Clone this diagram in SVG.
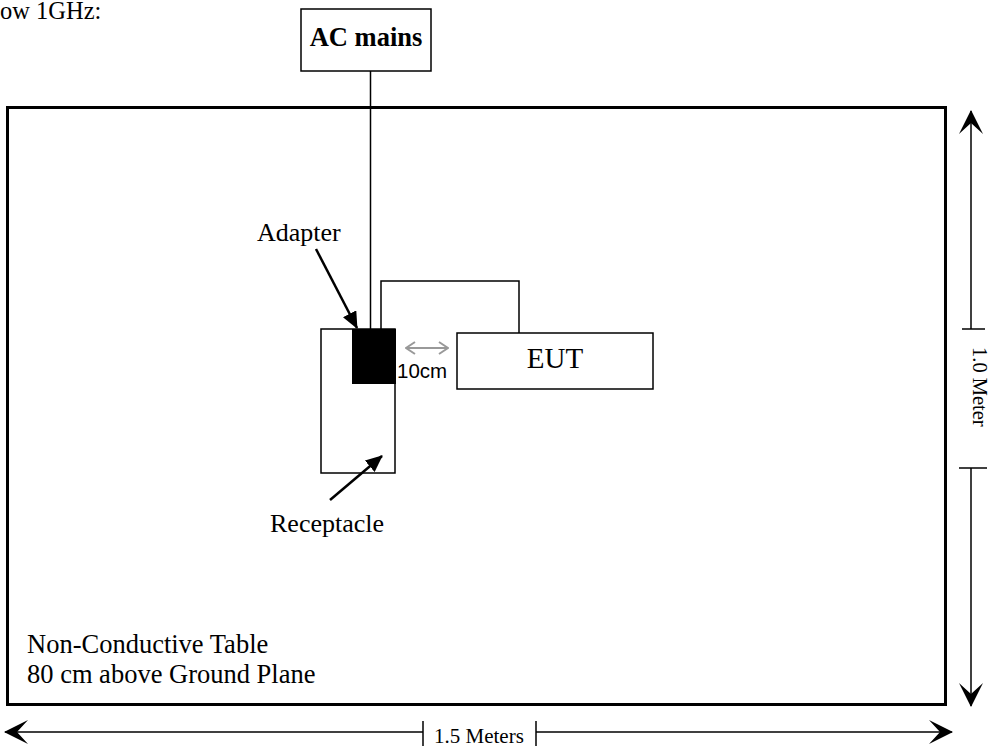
<svg xmlns="http://www.w3.org/2000/svg" width="989" height="748" viewBox="0 0 989 748">
<style>
text{font-family:"Liberation Serif","Times New Roman",serif;fill:#000}
.ln{stroke:#000;stroke-width:1.5;fill:none}
.dim{stroke:#000;stroke-width:1.5;fill:none}
.sans{font-family:"Liberation Sans",Arial,sans-serif}
</style>
<defs>
<marker id="big" viewBox="0 0 24 24" refX="23" refY="12" markerWidth="24" markerHeight="24" markerUnits="userSpaceOnUse" orient="auto">
<path d="M0,0 L24,12 L0,24 L11,12 Z" fill="#000"/>
</marker>
<marker id="ptr" viewBox="0 0 17 15" refX="16" refY="7.5" markerWidth="17" markerHeight="15" markerUnits="userSpaceOnUse" orient="auto">
<path d="M0,0 L17,7.5 L0,15 Z" fill="#000"/>
</marker>
<marker id="gray" viewBox="0 0 11 14" refX="10" refY="7" markerWidth="11" markerHeight="14" markerUnits="userSpaceOnUse" orient="auto-start-reverse">
<path d="M1,1 L10,7 L1,13" fill="none" stroke="#999" stroke-width="2"/>
</marker>
</defs>
<text x="0" y="19" font-size="24.5">ow 1GHz:</text>
<g id="table">
<rect x="7.5" y="107.5" width="938" height="597" fill="none" stroke="#000" stroke-width="3"/>
<text x="27" y="653" font-size="26.5">Non-Conductive Table</text>
<text x="27" y="683" font-size="26.5">80 cm above Ground Plane</text>
</g>
<g id="acmains">
<rect x="301" y="9" width="130" height="62" fill="#fff" stroke="#000" stroke-width="1.5"/>
<text x="366" y="46" font-size="26.5" font-weight="bold" text-anchor="middle">AC mains</text>
</g>
<g id="receptacle">
<rect x="321" y="329" width="74" height="144" fill="#fff" stroke="#000" stroke-width="1.5"/>
<text x="270" y="532" font-size="26">Receptacle</text>
</g>
<g id="adapter">
<rect x="352" y="329" width="44" height="55" fill="#000"/>
<text x="257" y="241" font-size="26">Adapter</text>
</g>
<g id="eut">
<rect x="457" y="333" width="196" height="56" fill="#fff" stroke="#000" stroke-width="1.5"/>
<text x="555" y="368" font-size="29" text-anchor="middle">EUT</text>
</g>
<g id="connectors">
<line class="ln" x1="370.5" y1="71" x2="370.5" y2="329"/>
<polyline class="ln" points="381,329 381,281 519,281 519,333"/>
<line x1="316" y1="249" x2="357" y2="328" stroke="#000" stroke-width="2.5" marker-end="url(#ptr)"/>
<line x1="330" y1="500" x2="382" y2="456" stroke="#000" stroke-width="2.5" marker-end="url(#ptr)"/>
<line x1="406" y1="348" x2="448" y2="348" stroke="#999" stroke-width="2" marker-start="url(#gray)" marker-end="url(#gray)"/>
<text x="397" y="378" font-size="20.5" class="sans">10cm</text>
</g>
<g id="dimensions">
<line class="dim" x1="971" y1="329" x2="971" y2="111" marker-end="url(#big)"/>
<line class="dim" x1="962" y1="329" x2="985" y2="329"/>
<line class="dim" x1="959" y1="468" x2="987" y2="468"/>
<line class="dim" x1="971" y1="468" x2="971" y2="706" marker-end="url(#big)"/>
<text transform="translate(973,347) rotate(90)" font-size="20.5">1.0 Meter</text>
<line class="dim" x1="423" y1="732" x2="5" y2="732" marker-end="url(#big)"/>
<line class="dim" x1="423" y1="721" x2="423" y2="746"/>
<line class="dim" x1="536" y1="721" x2="536" y2="746"/>
<line class="dim" x1="536" y1="732" x2="952" y2="732" marker-end="url(#big)"/>
<text x="434" y="743" font-size="21">1.5 Meters</text>
</g>
</svg>
